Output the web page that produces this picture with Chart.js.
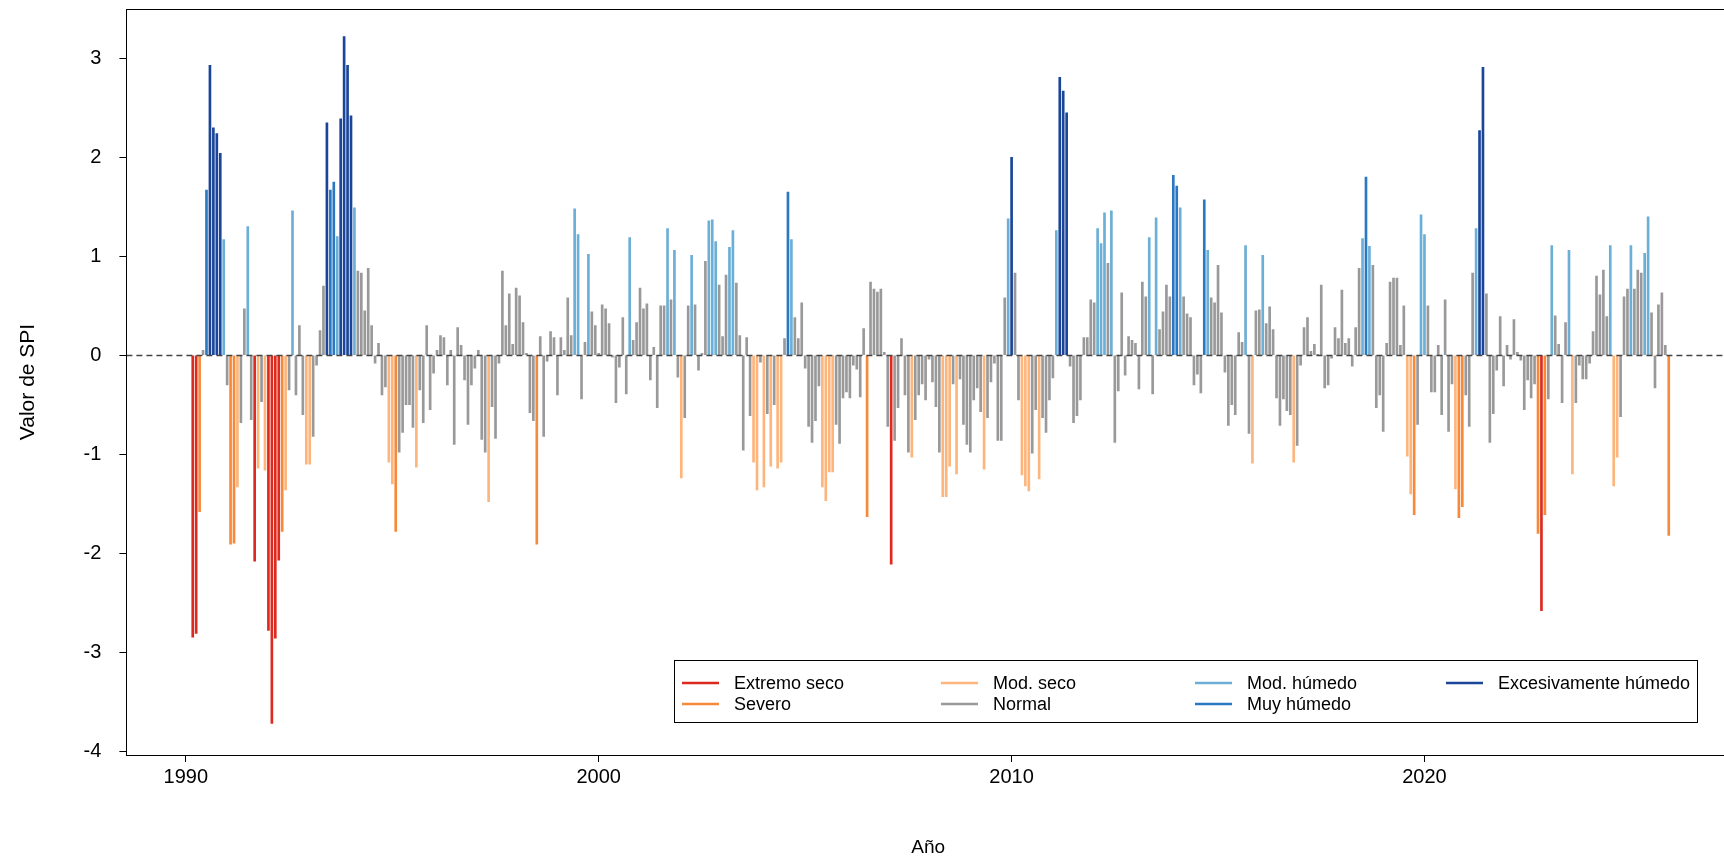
<!DOCTYPE html>
<html>
<head>
<meta charset="utf-8">
<script src="https://cdn.jsdelivr.net/npm/chart.js@4.4.1/dist/chart.umd.min.js"></script>
<style>
html, body { margin: 0; padding: 0; background: #fff; overflow: hidden; }
#contenedor { width: 1735px; height: 863px; }
</style>
</head>
<body>
<div id="contenedor"><canvas id="grafico" width="1735" height="863"></canvas></div>
<script>
// SPI mensual, desde marzo de 1990
var anioInicio = 1990;
var mesInicio = 3;

var spi = [
    -2.85, -2.81, -1.58, 0.05, 1.67, 2.93, 2.30, 2.24, 2.04, 1.17,
    -0.30, -1.91, -1.90, -1.33, -0.68, 0.47, 1.30, -0.65, -2.08, -1.14,
    -0.47, -1.16, -2.78, -3.72, -2.86, -2.07, -1.78, -1.36, -0.35, 1.46,
    -0.40, 0.30, -0.60, -1.10, -1.10, -0.82, -0.10, 0.25,
    0.70, 2.35, 1.67, 1.75, 1.20, 2.39, 3.22, 2.93, 2.42, 1.49,
    0.85, 0.83, 0.45, 0.88, 0.30, -0.08, 0.12, -0.40, -0.32, -1.08,
    -1.30, -1.78, -0.98, -0.78, -0.50, -0.50, -0.73, -1.13, -0.35, -0.68,
    0.30, -0.55, -0.18, 0.05, 0.20, 0.18, -0.30, 0.05, -0.90,
    0.28, 0.10, -0.25, -0.70, -0.30, -0.13, 0.05, -0.85, -0.98, -1.48,
    -0.52, -0.84, -0.08, 0.85, 0.30, 0.62, 0.11, 0.68, 0.60, 0.33,
    0.02, -0.58, -0.66, -1.91, 0.19, -0.82, -0.06, 0.24, 0.18, -0.40,
    0.18, 0.05, 0.58, 0.20, 1.48, 1.22, -0.44, 0.13, 1.02, 0.44,
    0.30, 0.02, 0.51, 0.47, 0.32, -0.02, -0.48, -0.12, 0.38, -0.39,
    1.19, 0.15, 0.33, 0.68, 0.47, 0.52, -0.25, 0.08, -0.53, 0.50,
    0.50, 1.28, 0.56, 1.06, -0.22, -1.24, -0.63, 0.50, 1.01, 0.51,
    -0.15, 0.02, 0.95, 1.36, 1.37, 1.15, 0.71, 0.19, 0.81,
    1.09, 1.26, 0.73, 0.20, -0.96, 0.18, -0.61, -1.08, -1.36, -0.07,
    -1.33, -0.59, -1.12, -0.50, -1.14, -1.08, 0.17, 1.65, 1.17, 0.38,
    0.17, 0.53, -0.13, -0.72, -0.88, -0.66, -0.31, -1.33, -1.47, -1.18,
    -1.18, -0.70, -0.89, -0.43, -0.37, -0.43, -0.10, -0.14, -0.42, 0.27,
    -1.63, 0.74, 0.67, 0.64, 0.67, 0.03, -0.72, -2.11, -0.86, -0.53,
    0.17, -0.40, -0.98, -1.03, -0.65, -0.40, -0.29, -0.45, -0.04, -0.27,
    -0.52, -0.98, -1.43, -1.43, -1.12, -0.29, -1.20, -0.24, -0.70, -0.90,
    -0.98, -0.45, -0.33, -0.57, -1.15, -0.63, -0.27, -0.08, -0.86, -0.86,
    0.58, 1.38, 2.00, 0.83, -0.45, -1.21, -1.32, -1.37, -0.99, -0.55,
    -1.25, -0.63, -0.78, -0.45, -0.23, 1.26, 2.81, 2.67, 2.45, -0.11,
    -0.68, -0.61, -0.45, 0.18, 0.18, 0.56, 0.53, 1.28, 1.13, 1.44,
    0.93, 1.46, -0.88, -0.36, 0.63, -0.20, 0.19, 0.15,
    0.12, -0.34, 0.74, 0.59, 1.19, -0.39, 1.39, 0.26, 0.44, 0.71,
    0.59, 1.82, 1.71, 1.49, 0.59, 0.42, 0.38, -0.30, -0.19, -0.38,
    1.57, 1.06, 0.58, 0.53, 0.91, 0.43, -0.17, -0.71, -0.50, -0.60,
    0.23, 0.13, 1.11, -0.79, -1.09, 0.45, 0.46, 1.01, 0.32, 0.49,
    0.26, -0.43, -0.71, -0.44, -0.56, -0.60, -1.08, -0.91, -0.10, 0.28,
    0.38, 0.04, 0.11, 0.01, 0.71, -0.33, -0.30, -0.03, 0.28, 0.17,
    0.66, 0.12, 0.17, -0.11, 0.28, 0.88, 1.18, 1.80, 1.10, 0.91,
    -0.53, -0.40, -0.77, 0.12, 0.74, 0.78, 0.78, 0.10, 0.50,
    -1.02, -1.40, -1.61, -0.70, 1.42, 1.22, 0.50, -0.37, -0.37, 0.10,
    -0.60, 0.56, -0.77, -0.29, -1.35, -1.64, -1.53, -0.40, -0.72, 0.83,
    1.28, 2.27, 2.91, 0.62, -0.88, -0.59, -0.15, 0.39, -0.31, 0.10,
    -0.04, 0.36, 0.03, -0.05, -0.55, -0.25, -0.43, -0.29, -1.80, -2.58,
    -1.61, -0.44, 1.11, 0.40, 0.11, -0.48, 0.33, 1.06, -1.20, -0.48,
    -0.10, -0.24, -0.24, -0.08, 0.24, 0.80, 0.61, 0.86, 0.39, 1.11,
    -1.32, -1.03, -0.62, 0.59, 0.67, 1.11, 0.67, 0.86, 0.83, 1.03,
    1.40, 0.43, -0.33, 0.51, 0.63, 0.10, -1.82
];

var ticksX = [1990, 2000, 2010, 2020];
var ticksY = [-4, -3, -2, -1, 0, 1, 2, 3];

var categorias = ["Extremo seco", "Severo", "Mod. seco", "Normal", "Mod. húmedo", "Muy húmedo", "Excesivamente húmedo"];
var limites = [-2, -1.5, -1, 1, 1.5, 2];
var colores = ["#DC2A1E", "#F7893A", "#FDB57C", "#999999", "#6BAED6", "#2A78C2", "#1A4599"];

var fuente = "'Liberation Sans', Arial, sans-serif";
Chart.defaults.font.family = fuente;
Chart.defaults.color = "#000";

function categoria(v)
{
    if (v <= limites[0]) return 0;
    if (v <= limites[1]) return 1;
    if (v <= limites[2]) return 2;
    if (v < limites[3]) return 3;
    if (v < limites[4]) return 4;
    if (v < limites[5]) return 5;
    return 6;
}

var puntos = spi.map(function(v, i){
    return { x: anioInicio + (mesInicio - 1 + i) / 12, y: v };
});
var coloresBarras = spi.map(function(v){ return colores[categoria(v)]; });

// orden de la leyenda: 4 columnas x 2 filas
var columnasLeyenda = [[0, 1], [2, 3], [4, 5], [6]];

var marco = {
    id: 'marco',
    afterDatasetsDraw: function(chart)
    {
        var ctx = chart.ctx;
        var a = chart.chartArea;
        var y0 = Math.round(chart.scales.y.getPixelForValue(0)) + 0.5;
        ctx.save();
        ctx.strokeStyle = "#444";
        ctx.lineWidth = 1.3;
        ctx.setLineDash([6, 4]);
        ctx.beginPath();
        ctx.moveTo(a.left, y0);
        ctx.lineTo(a.right, y0);
        ctx.stroke();
        ctx.setLineDash([]);

        ctx.strokeStyle = "#000";
        ctx.lineWidth = 1;
        ctx.strokeRect(Math.round(a.left) + 0.5, Math.round(a.top) + 0.5, a.right - a.left, Math.round(a.bottom - a.top));

        // leyenda
        var lx = 674, ly = 660, lw = 1023, lh = 62;
        ctx.fillStyle = "#fff";
        ctx.fillRect(lx, ly, lw, lh);
        ctx.strokeRect(lx + 0.5, ly + 0.5, lw, lh);
        var xLinea = [682, 941, 1195, 1446];
        var yFila = [683, 704];
        ctx.font = "18px " + fuente;
        ctx.textBaseline = "middle";
        ctx.textAlign = "left";
        ctx.lineWidth = 2.5;
        columnasLeyenda.forEach(function(col, c){
            col.forEach(function(k, f){
                ctx.strokeStyle = colores[k];
                ctx.beginPath();
                ctx.moveTo(xLinea[c], yFila[f]);
                ctx.lineTo(xLinea[c] + 37, yFila[f]);
                ctx.stroke();
                ctx.fillStyle = "#000";
                ctx.fillText(categorias[k], xLinea[c] + 52, yFila[f] + 1);
            });
        });
        ctx.restore();
    }
};

new Chart(document.getElementById("grafico"), {
    type: 'bar',
    data: {
        datasets: [{
            data: puntos,
            backgroundColor: coloresBarras,
            borderWidth: 0,
            barThickness: 2
        }]
    },
    options: {
        responsive: false,
        animation: false,
        layout: { padding: { top: 9, right: 5, left: 0, bottom: 0 } },
        plugins: {
            legend: { display: false },
            tooltip: { enabled: false }
        },
        scales: {
            x: {
                type: 'linear',
                offset: false,
                min: 1988.56,
                max: 2027.4,
                afterBuildTicks: function(s){ s.ticks = ticksX.map(function(v){ return { value: v }; }); },
                afterFit: function(s){ s.height = 108; s.paddingLeft = 0; s.paddingRight = 0; },
                ticks: {
                    autoSkip: false, maxRotation: 0, padding: 3,
                    font: { size: 20 },
                    callback: function(v){ return String(v); }
                },
                grid: { offset: false, drawOnChartArea: false, drawTicks: true, tickLength: 7, color: "#000", lineWidth: 1 },
                border: { display: true, color: "#000", width: 1 },
                title: { display: true, text: "Año", font: { size: 19 }, padding: { top: 0, bottom: 4 } }
            },
            y: {
                type: 'linear',
                min: -4.04,
                max: 3.5,
                afterBuildTicks: function(s){ s.ticks = ticksY.map(function(v){ return { value: v }; }); },
                afterFit: function(s){ s.width = 126.4; s.paddingTop = 0; s.paddingBottom = 0; },
                ticks: {
                    autoSkip: false, padding: 18,
                    font: { size: 20 },
                    callback: function(v){ return String(v); }
                },
                grid: { drawOnChartArea: false, drawTicks: true, tickLength: 7, color: "#000", lineWidth: 1 },
                border: { display: true, color: "#000", width: 1 },
                title: { display: true, text: "Valor de SPI", font: { size: 21 }, padding: { top: 16, bottom: 0 } }
            }
        }
    },
    plugins: [marco]
});
</script>
</body>
</html>
